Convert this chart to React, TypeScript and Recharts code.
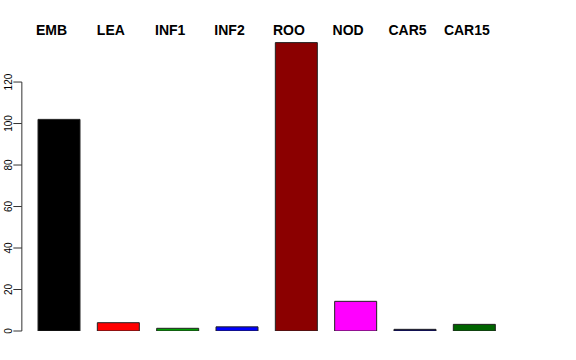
import { BarChart, Bar, XAxis, YAxis, Cell } from 'recharts';

const categories = ['EMB', 'LEA', 'INF1', 'INF2', 'ROO', 'NOD', 'CAR5', 'CAR15'];
const values = [102, 4, 1.3, 2, 139, 14.3, 0.8, 3.2];
const colors = ['#000000', '#ff0000', '#00a000', '#0000ff', '#8b0000', '#ff00ff', '#000080', '#006400'];
const yTicks = [0, 20, 40, 60, 80, 100, 120];

const Y_MAX = 144.6;
const PLOT_H = 300;

const data = categories.map((name, i) => ({ name, value: values[i] }));

const YTick = (props: any) => {
  const { x, y, payload } = props;
  const v = payload.value as number;
  const step = (20 * PLOT_H) / Y_MAX;
  return (
    <g>
      <line x1={x - 8} x2={x + 0.5} y1={y} y2={y} stroke="#333" />
      {v < 120 && <line x1={x + 0.5} x2={x + 0.5} y1={y} y2={y - step} stroke="#333" />}
      <text
        x={12}
        y={y}
        transform={`rotate(-90 12 ${y})`}
        textAnchor="middle"
        fontSize={10}
        fill="#000"
        fontFamily="Liberation Sans, Arial, sans-serif"
      >
        {v}
      </text>
    </g>
  );
};

const XTick = (props: any) => {
  const { x, payload } = props;
  return (
    <text
      x={x - 7.5}
      y={35}
      textAnchor="middle"
      fontSize={14}
      fontWeight="bold"
      fill="#000"
      fontFamily="Liberation Sans, Arial, sans-serif"
    >
      {payload.value}
    </text>
  );
};

export default function App() {
  return (
    <div style={{ position: 'absolute', left: 0, top: 0, width: 576, height: 360, background: '#fff' }}>
      <BarChart
        width={576}
        height={360}
        data={data}
        margin={{ top: 0, right: 72, bottom: 29, left: 0 }}
        barCategoryGap="14.6%"
      >
        <XAxis
          dataKey="name"
          orientation="top"
          height={31}
          axisLine={false}
          tickLine={false}
          tick={<XTick />}
          interval={0}
        />
        <YAxis
          width={29.35}
          domain={[0, Y_MAX]}
          ticks={yTicks}
          axisLine={false}
          tickLine={false}
          tick={<YTick />}
          allowDataOverflow
        />
        <Bar dataKey="value" isAnimationActive={false} stroke="#222" strokeWidth={1}>
          {data.map((d, i) => (
            <Cell key={d.name} fill={colors[i]} />
          ))}
        </Bar>
      </BarChart>
    </div>
  );
}
